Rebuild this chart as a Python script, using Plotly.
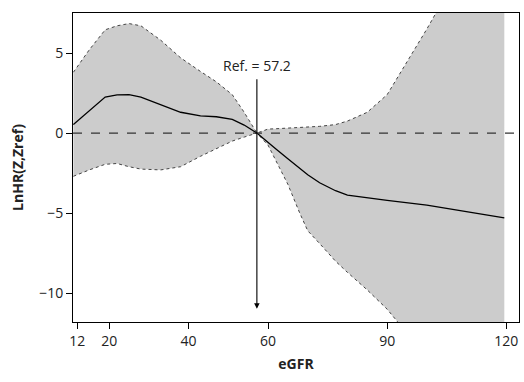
import plotly.graph_objects as go

egfr = [11, 15, 19, 22, 25, 28, 33, 38, 43, 47, 51, 54, 57.2, 60, 62, 65, 68, 70, 73, 77, 80, 85, 90, 100, 110, 119.5]
lnhr = [0.53, 1.4, 2.25, 2.38, 2.4, 2.25, 1.8, 1.3, 1.07, 1.02, 0.85, 0.5, 0.0, -0.6, -1.0, -1.6, -2.2, -2.6, -3.1, -3.6, -3.87, -4.05, -4.2, -4.5, -4.9, -5.3]
upper = [3.8, 5.2, 6.45, 6.7, 6.84, 6.7, 5.8, 4.7, 3.85, 3.2, 2.4, 1.3, 0.0, 0.25, 0.27, 0.3, 0.33, 0.35, 0.42, 0.53, 0.75, 1.3, 2.4, 6.5, 11.0, 15.0]
lower = [-2.7, -2.3, -1.95, -1.9, -2.1, -2.25, -2.3, -2.1, -1.45, -1.0, -0.5, -0.25, 0.0, -0.75, -1.7, -3.2, -5.0, -6.1, -6.9, -8.0, -8.7, -9.8, -11.0, -14.0, -16.0, -18.0]
ref_value = 57.2
x_ticks = [12, 20, 40, 60, 90, 120]
y_ticks = [-10, -5, 0, 5]

fig = go.Figure()
fig.add_trace(go.Scatter(x=egfr, y=lower, mode="lines",
                         line=dict(color="#444444", width=1, dash="dot"), showlegend=False))
fig.add_trace(go.Scatter(x=egfr, y=upper, mode="lines", fill="tonexty", fillcolor="#cccccc",
                         line=dict(color="#444444", width=1, dash="dot"), showlegend=False))
fig.add_shape(type="line", xref="paper", x0=0, x1=1, yref="y", y0=0, y1=0,
              line=dict(color="#333333", width=1.2, dash="dash"))
fig.add_trace(go.Scatter(x=egfr, y=lnhr, mode="lines",
                         line=dict(color="black", width=1.3), showlegend=False))

fig.add_annotation(x=ref_value, y=-10.97, ax=ref_value, ay=3.45, axref="x", ayref="y",
                   xref="x", yref="y", text="", showarrow=True, arrowhead=2,
                   arrowsize=1, arrowwidth=1.1, arrowcolor="black")
fig.add_annotation(x=ref_value, y=4.25, xref="x", yref="y", text="Ref. = 57.2",
                   showarrow=False, font=dict(size=14, color="#222222"))

fig.update_layout(
    width=524, height=382,
    margin=dict(l=73, r=5, t=13, b=60),
    paper_bgcolor="white", plot_bgcolor="white",
    font=dict(family="Open Sans", size=14, color="#222222"),
    xaxis=dict(range=[10.9, 123.2], tickvals=x_ticks, ticks="outside", ticklen=6,
               tickcolor="black", showline=True, linecolor="black", linewidth=1,
               mirror=True, showgrid=False, zeroline=False, automargin=False,
               title=dict(text="<b>eGFR</b>", font=dict(size=14), standoff=10)),
    yaxis=dict(range=[-11.8, 7.5], tickvals=y_ticks, ticks="outside", ticklen=6,
               tickcolor="black", showline=True, linecolor="black", linewidth=1,
               mirror=True, showgrid=False, zeroline=False, automargin=False,
               title=dict(text="<b>LnHR(Z,Zref)</b>", font=dict(size=14), standoff=12)),
)

fig.write_html("out.html", config={"displayModeBar": False},
               post_script="document.body.style.margin='0';document.body.style.padding='0';")
